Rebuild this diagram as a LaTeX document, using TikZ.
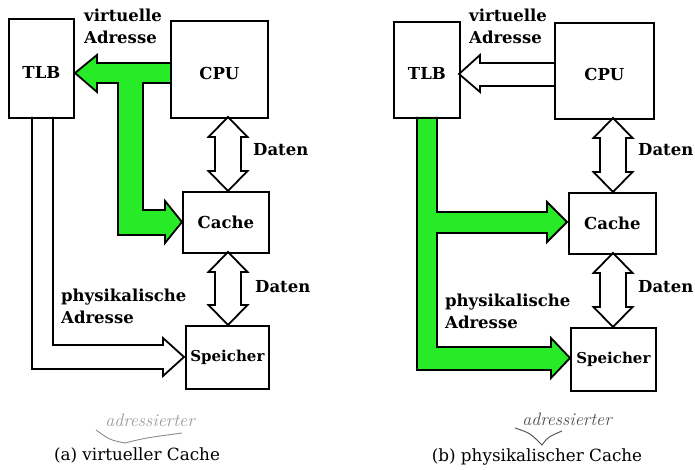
\documentclass[tikz,border=0pt]{standalone}
\usepackage{fontspec}
\setmainfont{DejaVu Serif}
\newfontfamily\handfont{Latin Modern Roman}
\usetikzlibrary{calc}
\definecolor{agreen}{RGB}{40,235,40}
\newcommand\dblarr[3]{\draw[hollow] (#1,#2) -- (#1+19.5,#2+20) -- (#1+13,#2+20) -- (#1+13,#3-20) -- (#1+19.5,#3-20) -- (#1,#3) -- (#1-19.5,#3-20) -- (#1-13,#3-20) -- (#1-13,#2+20) -- (#1-19.5,#2+20) -- cycle;}
\newcommand\lowered[1]{\rule{0pt}{20pt}#1}
\begin{document}
\begin{tikzpicture}[x=1pt,y=-1pt,
  box/.style={draw,line width=1.8pt,inner sep=0pt,anchor=north west,font=\fontsize{16.5}{18}\selectfont\bfseries},
  smallfont/.style={font=\fontsize{15}{18}\selectfont\bfseries},
  lbl/.style={font=\fontsize{16.5}{22}\selectfont\bfseries,align=left,inner sep=0pt},
  hollow/.style={draw,fill=white,line width=1.8pt,line join=miter},
  garrow/.style={draw,fill=agreen,line width=1.8pt,line join=miter},
  capt/.style={font=\fontsize{16.8}{20}\selectfont,inner sep=0pt},
  hand/.style={font=\fontsize{18}{20}\selectfont\handfont\itshape,inner sep=0pt},
  caret/.style={line width=0.9pt}
]
\useasboundingbox (0,0) rectangle (695,470);

% ---------- (a) virtueller Cache ----------
\draw[garrow] (170,63) -- (97,63) -- (97,55) -- (75,73) -- (97,92) -- (97,83) -- (118,83) -- (118,235) -- (165,235) -- (165,243) -- (182,222) -- (165,201) -- (165,210) -- (143,210) -- (143,83) -- (170,83);
\draw[hollow] (32,117) -- (32,369) -- (163,369) -- (163,376) -- (184,357) -- (163,338) -- (163,345) -- (53,345) -- (53,117);
\dblarr{228}{117}{191}
\dblarr{228}{252}{325}

\node[box,minimum width=65pt,minimum height=99pt] (tlbA) at (8,18) {\lowered{TLB}};
\node[box,minimum width=97pt,minimum height=97pt] (cpuA) at (170,20) {\lowered{CPU}};
\node[box,minimum width=86pt,minimum height=61pt] (cacheA) at (182,191) {Cache};
\node[box,smallfont,minimum width=83pt,minimum height=63pt] (memA) at (185,325) {Speicher};

\node[lbl,anchor=west] (vaA) at (84,26) {virtuelle\\Adresse};
\node[lbl,anchor=west] (dA1) at (253,150) {Daten};
\node[lbl,anchor=west] (dA2) at (255,287) {Daten};
\node[lbl,anchor=west] (paA) at (61,306) {physikalische\\Adresse};

\node[hand,text=black!40] (hwA) at (150,420) {adressierter};
\draw[caret,black!45] (96,430) .. controls (110,440) .. (125,443) .. controls (145,438) .. (182,433);
\node[capt] (capA) at (137,455) {(a) virtueller Cache};

% ---------- (b) physikalischer Cache ----------
\draw[hollow] (554,63) -- (480,63) -- (480,55) -- (459,74) -- (480,92) -- (480,86) -- (554,86);
\draw[garrow] (417,117) -- (417,370) -- (551,370) -- (551,378) -- (570,358) -- (551,338) -- (551,347) -- (437,347) -- (437,233) -- (547,233) -- (547,242) -- (567,222) -- (547,202) -- (547,212) -- (437,212) -- (437,117);
\dblarr{613}{118}{192}
\dblarr{613}{253}{327}

\node[box,minimum width=66pt,minimum height=96pt] (tlbB) at (393,21) {\lowered{TLB}};
\node[box,minimum width=99pt,minimum height=96pt] (cpuB) at (554,22) {\lowered{CPU}};
\node[box,minimum width=87pt,minimum height=61pt] (cacheB) at (568,192) {Cache};
\node[box,smallfont,minimum width=85pt,minimum height=63pt] (memB) at (570,327) {Speicher};

\node[lbl,anchor=west] (vaB) at (469,26) {virtuelle\\Adresse};
\node[lbl,anchor=west] (dB1) at (638,150) {Daten};
\node[lbl,anchor=west] (dB2) at (638,287) {Daten};
\node[lbl,anchor=west] (paB) at (445,311) {physikalische\\Adresse};

\node[hand,text=black!70] (hwB) at (567,419) {adressierter};
\draw[caret,black!70] (515,428) .. controls (530,433) .. (542,445) .. controls (548,437) .. (562,431);
\node[capt] (capB) at (537,457) {(b) physikalischer Cache};
\end{tikzpicture}
\end{document}
